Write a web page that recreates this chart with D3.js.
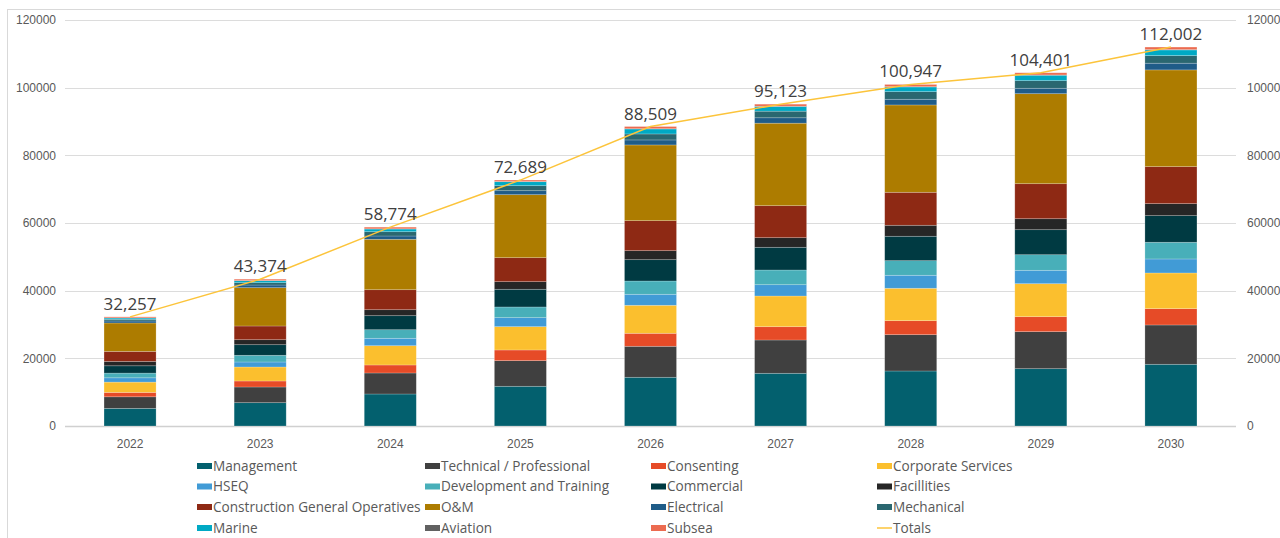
<!DOCTYPE html>
<html>
<head>
<meta charset="utf-8">
<script src="https://cdn.jsdelivr.net/npm/d3@7"></script>
<style>
  body { margin: 0; background: #fff; }
  svg { display: block; font-family: "Open Sans", sans-serif; }
</style>
</head>
<body>
<div id="chart"></div>
<script>
let years = ["2022", "2023", "2024", "2025", "2026", "2027", "2028", "2029", "2030"];

let series = [
  "Management", "Technical / Professional", "Consenting", "Corporate Services",
  "HSEQ", "Development and Training", "Commercial", "Facillities",
  "Construction General Operatives", "O&M", "Electrical", "Mechanical",
  "Marine", "Aviation", "Subsea"
];

let management   = [5200, 6890, 9460, 11740, 14400, 15580, 16260, 16940, 18240];
let technical    = [3430, 4640, 6210, 7570, 9160, 9840, 10730, 10940, 11620];
let consenting   = [1300, 1770, 2365, 3160, 3840, 3930, 4140, 4430, 4820];
let corporate    = [3045, 4140, 5700, 6890, 8280, 9070, 9580, 9750, 10550];
let hseq         = [1270, 1480, 2190, 2660, 3250, 3340, 3840, 3960, 4140];
let development  = [1390, 1980, 2540, 3160, 3930, 4350, 4320, 4610, 4940];
let commercial   = [2160, 3130, 4140, 5230, 6300, 6710, 7210, 7390, 7860];
let facilities   = [1300, 1480, 1770, 2250, 2660, 2840, 3250, 3250, 3550];
let construction = [2956, 4050, 5910, 7090, 8870, 9460, 9750, 10350, 10940];
let om           = [8400, 11320, 14900, 18620, 22380, 24383, 25810, 26600, 28590];
let electrical   = [590, 790, 975, 1180, 1480, 1600, 1680, 1600, 1980];
let mechanical   = [500, 690, 1270, 1480, 1770, 1950, 2250, 2250, 2250];
let marine       = [390, 590, 800, 1180, 1480, 1390, 1390, 1600, 1680];
let aviation     = [30, 40, 50, 60, 70, 80, 90, 90, 100];
let subsea       = [296, 404, 494, 419, 639, 600, 647, 641, 742];

let totals = [32257, 43374, 58774, 72689, 88509, 95123, 100947, 104401, 112002];

let yTicks = [0, 20000, 40000, 60000, 80000, 100000, 120000];

let colors = [
  "#03606e", "#404040", "#e64b27", "#fbbf2e",
  "#419bd6", "#48afb9", "#003a42", "#262626",
  "#8e2914", "#ad7c00", "#1f5c88", "#2a6770",
  "#00a9c4", "#616161", "#ec6b50"
];
let totalsColor = "#fcc43b";

let values = [management, technical, consenting, corporate, hseq, development,
  commercial, facilities, construction, om, electrical, mechanical, marine, aviation, subsea];

let width = 1280, height = 538;

let table = years.map((yr, i) => {
  let row = { year: yr };
  series.forEach((s, j) => row[s] = values[j][i]);
  return row;
});

let svg = d3.select("#chart")
  .append("svg")
  .attr("width", width)
  .attr("height", height);

// outer chart border
svg.append("rect")
  .attr("x", 7.5).attr("y", 9.5)
  .attr("width", 1400).attr("height", 700)
  .attr("fill", "none")
  .attr("stroke", "#d9d9d9");

let x = d3.scaleBand()
  .domain(years)
  .range([65, 1236])
  .paddingInner(0.6)
  .paddingOuter(0.3);

let y = d3.scaleLinear()
  .domain([0, 120000])
  .range([426, 20]);

let color = d3.scaleOrdinal().domain(series).range(colors);

// gridlines
svg.append("g")
  .selectAll("line")
  .data(yTicks)
  .enter()
  .append("line")
  .attr("x1", 65).attr("x2", 1236)
  .attr("y1", d => Math.round(y(d)) + 0.5)
  .attr("y2", d => Math.round(y(d)) + 0.5)
  .attr("stroke", d => d === 0 ? "#d0d0d0" : "#dcdcdc")
  .attr("stroke-width", d => d === 0 ? 1.5 : 1);

// left axis
let left = svg.append("g")
  .attr("transform", "translate(56,0)")
  .call(d3.axisLeft(y).tickValues(yTicks).tickSize(0).tickPadding(0).tickFormat(d3.format("d")));
left.select(".domain").remove();
left.selectAll("text").attr("fill", "#595959").style("font-size", "12px");

// right axis (runs past the frame edge, as in the source)
let right = svg.append("g")
  .attr("transform", "translate(1247,0)")
  .call(d3.axisRight(y).tickValues(yTicks).tickSize(0).tickPadding(0).tickFormat(d3.format("d")));
right.select(".domain").remove();
right.selectAll("text").attr("fill", "#595959").style("font-size", "12px");

// x axis
let bottom = svg.append("g")
  .attr("transform", "translate(0,437)")
  .call(d3.axisBottom(x).tickSize(0).tickPadding(2));
bottom.select(".domain").remove();
bottom.selectAll("text").attr("fill", "#595959").style("font-size", "12px");

// stacked bars
let stacked = d3.stack().keys(series)(table);

svg.append("g")
  .selectAll("g")
  .data(stacked)
  .enter()
  .append("g")
  .attr("fill", d => color(d.key))
  .selectAll("rect")
  .data(d => d)
  .enter()
  .append("rect")
  .attr("x", d => x(d.data.year))
  .attr("y", d => y(d[1]))
  .attr("width", x.bandwidth())
  .attr("height", d => y(d[0]) - y(d[1]))
  .attr("stroke", "rgba(255,255,255,0.3)")
  .attr("stroke-width", 0.7);

// totals line
let line = d3.line()
  .x((d, i) => x(years[i]) + x.bandwidth() / 2)
  .y(d => y(d));

svg.append("path")
  .datum(totals)
  .attr("d", line)
  .attr("fill", "none")
  .attr("stroke", totalsColor)
  .attr("stroke-width", 1.5);

svg.append("g")
  .selectAll("text")
  .data(totals)
  .enter()
  .append("text")
  .attr("x", (d, i) => x(years[i]) + x.bandwidth() / 2)
  .attr("y", d => y(d) - 7)
  .attr("text-anchor", "middle")
  .attr("fill", "#404040")
  .style("font-size", "17px")
  .text(d => d3.format(",")(d));

// legend
let legendItems = series.concat(["Totals"]);
let colX = [197, 425, 651, 877];
let rowY = [466, 486.5, 507, 528];

let legend = svg.append("g");
legendItems.forEach((name, i) => {
  let cx = colX[i % 4], cy = rowY[Math.floor(i / 4)];
  if (name === "Totals") {
    legend.append("line")
      .attr("x1", cx).attr("x2", cx + 15)
      .attr("y1", cy).attr("y2", cy)
      .attr("stroke", totalsColor)
      .attr("stroke-width", 1.5);
  } else {
    legend.append("rect")
      .attr("x", cx).attr("y", cy - 3)
      .attr("width", 15).attr("height", 6)
      .attr("fill", color(name));
  }
  legend.append("text")
    .attr("x", cx + 16)
    .attr("y", cy)
    .attr("dy", "0.35em")
    .attr("fill", "#595959")
    .style("font-size", "13.6px")
    .text(name);
});
</script>
</body>
</html>
